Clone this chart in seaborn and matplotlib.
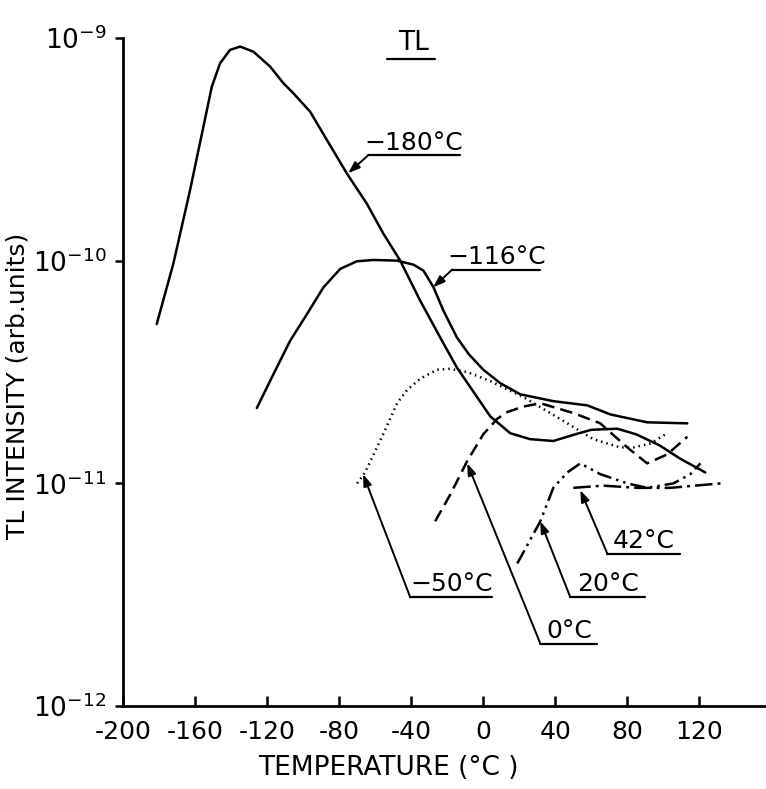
import matplotlib
matplotlib.use("Agg")
import matplotlib.pyplot as plt
import pandas as pd
import seaborn as sns

# TL glow curves (temperature in C, intensity in arb. units)
t_m180 = [-181.3, -172.1, -162.8, -155.4, -150.7, -146.1, -140.6, -135, -127.6, -118.3,
          -110.9, -105.4, -96.1, -86.8, -75.7, -64.6, -55.4, -46.1, -35, -23.9, -14.6, -7,
          3.9, 15, 26, 38.9, 51, 60, 74.4, 85, 98, 109.4, 123.3]
i_m180 = [5.19e-11, 9.66e-11, 2.07e-10, 3.98e-10, 6.04e-10, 7.69e-10, 8.83e-10, 9.14e-10,
          8.67e-10, 7.43e-10, 6.25e-10, 5.64e-10, 4.66e-10, 3.48e-10, 2.46e-10, 1.80e-10,
          1.32e-10, 1.00e-10, 6.61e-11, 4.52e-11, 3.31e-11, 2.69e-11, 2.00e-11, 1.68e-11,
          1.58e-11, 1.55e-11, 1.66e-11, 1.74e-11, 1.76e-11, 1.66e-11, 1.48e-11, 1.29e-11,
          1.12e-11]

t_m116 = [-125.7, -116.5, -107.2, -97.9, -88.7, -79.4, -70.2, -60.9, -47.9, -38.7, -33.2,
          -27.6, -22.1, -14.6, -8, 0, 9.4, 20.6, 38.9, 57.8, 70.6, 91, 113.3]
i_m116 = [2.18e-11, 3.09e-11, 4.37e-11, 5.75e-11, 7.59e-11, 9.18e-11, 9.93e-11, 1.007e-10,
          1.00e-10, 9.59e-11, 9.02e-11, 7.59e-11, 5.96e-11, 4.52e-11, 3.80e-11, 3.24e-11,
          2.82e-11, 2.51e-11, 2.34e-11, 2.24e-11, 2.04e-11, 1.88e-11, 1.86e-11]

t_m50 = [-70, -65.6, -55.6, -47.8, -42.2, -35, -25.6, -18.3, -8.9, 3.9, 13.9, 22, 44.4,
         61.1, 76.1, 83.3, 92.8, 102.2]
i_m50 = [1.00e-11, 1.12e-11, 1.66e-11, 2.29e-11, 2.63e-11, 2.95e-11, 3.24e-11, 3.27e-11,
         3.16e-11, 2.88e-11, 2.63e-11, 2.45e-11, 1.91e-11, 1.58e-11, 1.45e-11, 1.45e-11,
         1.51e-11, 1.68e-11]

t_0 = [-26.7, -18.3, -8.9, 0, 7.8, 13.3, 22, 31.7, 50, 65, 80, 91, 102.2, 113.3]
i_0 = [6.76e-12, 8.91e-12, 1.26e-11, 1.66e-11, 1.95e-11, 2.09e-11, 2.21e-11, 2.29e-11,
       2.07e-11, 1.86e-11, 1.45e-11, 1.23e-11, 1.35e-11, 1.62e-11]

t_20 = [18.9, 31.7, 38.9, 46.7, 53.9, 65, 80, 91, 105.6, 115, 120.6]
i_20 = [4.37e-12, 6.76e-12, 9.55e-12, 1.12e-11, 1.23e-11, 1.10e-11, 1.00e-11, 9.55e-12,
        1.00e-11, 1.10e-11, 1.23e-11]

t_42 = [50, 66.7, 85.6, 103.9, 131.7]
i_42 = [9.55e-12, 9.77e-12, 9.55e-12, 9.55e-12, 1.00e-11]

# labels: text, arrow tip, corner of the underline, end of the underline
label_text = ["\u2212180°C", "\u2212116°C", "\u221250°C", "0°C", "20°C", "42°C"]
tip_t = [-75, -27.8, -66.7, -8.9, 31.7, 53.9]
tip_i = [2.47e-10, 7.59e-11, 1.10e-11, 1.23e-11, 6.76e-12, 9.33e-12]
corner_t = [-63.9, -17.2, -40.6, 31.7, 48.3, 68.9]
corner_i = [2.97e-10, 9.12e-11, 3.09e-12, 1.91e-12, 3.09e-12, 4.84e-12]
end_t = [-12.8, 31.7, 5, 63.3, 90, 109.4]

x_ticks = [-200, -160, -120, -80, -40, 0, 40, 80, 120]
y_ticks = [1e-12, 1e-11, 1e-10, 1e-9]
y_ticklabels = ["$10^{-12}$", "$10^{-11}$", "$10^{-10}$", "$10^{-9}$"]

curves = {"-180": (t_m180, i_m180), "-116": (t_m116, i_m116), "-50": (t_m50, i_m50),
          "0": (t_0, i_0), "20": (t_20, i_20), "42": (t_42, i_42)}
df = pd.concat([pd.DataFrame({"T": t, "I": i, "curve": k}) for k, (t, i) in curves.items()],
               ignore_index=True)

sns.set_style("ticks")
plt.rcParams["font.family"] = ["DejaVu Sans"]
plt.rcParams["mathtext.default"] = "regular"
for key in ["text.color", "axes.labelcolor", "xtick.color", "ytick.color", "axes.edgecolor"]:
    plt.rcParams[key] = "black"

fig = plt.figure(figsize=(7.66, 7.89), dpi=100)
ax = fig.add_axes([0.1606, 0.105, 0.8394, 0.847])

dashes = {"-180": "", "-116": "", "-50": (0.6, 1.6), "0": (5, 2.5),
          "20": (6, 2, 1, 2, 1, 2), "42": (7, 2, 1.2, 2)}
sns.lineplot(data=df, x="T", y="I", hue="curve", style="curve", dashes=dashes,
             palette=["black"] * 6, sort=False, estimator=None, legend=False,
             linewidth=1.8, ax=ax)

ax.set_yscale("log")
ax.set_xlim(-200, 157)
ax.set_ylim(1e-12, 1e-9)
ax.set_xticks(x_ticks)
ax.set_xticklabels([str(v) for v in x_ticks])
ax.set_yticks(y_ticks)
ax.set_yticklabels(y_ticklabels)
sns.despine(ax=ax)
for s in ["left", "bottom"]:
    ax.spines[s].set_linewidth(2)
ax.tick_params(axis="x", direction="in", length=7, width=1.8, labelsize=18, pad=10)
ax.tick_params(axis="y", which="major", direction="out", length=6, width=1.8,
               labelsize=19, pad=6)
ax.tick_params(axis="y", which="minor", length=0)

ax.set_xlabel("TEMPERATURE (°C )", fontsize=19)
ax.set_ylabel("TL INTENSITY (arb.units)", fontsize=18)
ax.xaxis.set_label_coords(0.412, -0.073)
ax.yaxis.set_label_coords(-0.145, 0.48)

for txt, tt, ti, ct, ci, et in zip(label_text, tip_t, tip_i, corner_t, corner_i, end_t):
    ax.annotate("", xy=(tt, ti), xytext=(ct, ci),
                arrowprops=dict(arrowstyle="-|>,head_length=0.7,head_width=0.25",
                                color="black", lw=1.4, shrinkA=0, shrinkB=0))
    ax.plot([ct, et], [ci, ci], color="black", lw=1.6)
    ax.annotate(txt, xy=((ct + et) / 2, ci), xytext=(0, 0.5), textcoords="offset points",
                ha="center", va="bottom", fontsize=18)

# "TL" heading with underline
ax.text(-38.9, 9.5e-10, "TL", ha="center", va="center", fontsize=19, clip_on=False)
ax.plot([-53.3, -26.7], [8.04e-10, 8.04e-10], color="black", lw=1.6, clip_on=False)

fig.savefig("out.png", dpi=100)
